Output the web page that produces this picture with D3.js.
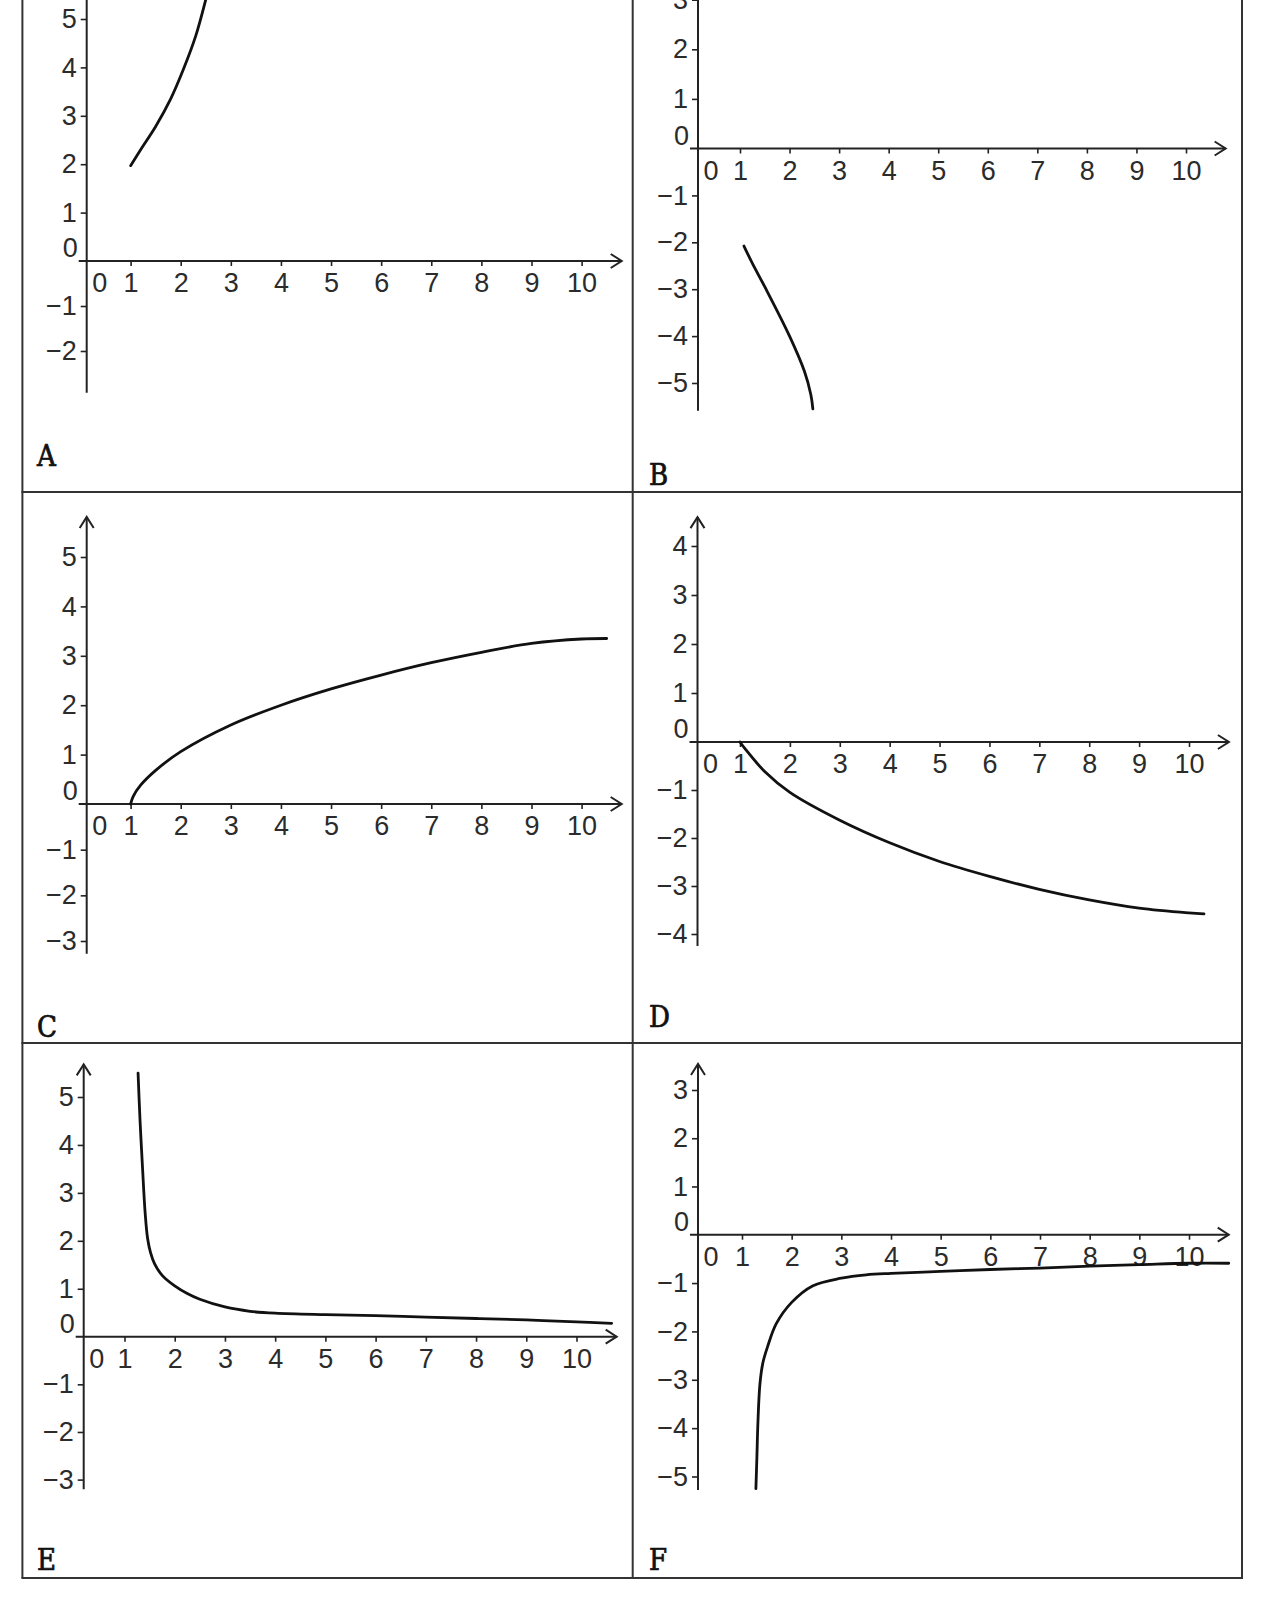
<!DOCTYPE html>
<html>
<head>
<meta charset="utf-8">
<script src="https://cdn.jsdelivr.net/npm/d3@7"></script>
<style>
body { margin: 0; background: #fff; }
svg { display: block; }
.tick text { font-family: "Liberation Sans", Arial, sans-serif; font-size: 27px; fill: #2b2b2b; }
.tick line { stroke: #222; stroke-width: 1.6; }
.zero { font-family: "Liberation Sans", Arial, sans-serif; font-size: 27px; fill: #2b2b2b; }
.plabel { font-family: "DejaVu Serif Condensed", "DejaVu Serif", serif; font-stretch: condensed; font-size: 29px; fill: #111; stroke: #111; stroke-width: 0.7; }
</style>
</head>
<body>
<svg id="chart"></svg>
<script>
// data
const panelNames = ["A", "B", "C", "D", "E", "F"];
const xTickValues = [1, 2, 3, 4, 5, 6, 7, 8, 9, 10];
const yTicksA = [-2, -1, 1, 2, 3, 4, 5];
const yTicksB = [-5, -4, -3, -2, -1, 1, 2, 3];
const yTicksC = [-3, -2, -1, 1, 2, 3, 4, 5];
const yTicksD = [-4, -3, -2, -1, 1, 2, 3, 4];
const yTicksE = [-3, -2, -1, 1, 2, 3, 4, 5];
const yTicksF = [-5, -4, -3, -2, -1, 1, 2, 3];

const curveA = [[1, 1.97], [1.2, 2.3], [1.5, 2.78], [1.8, 3.35], [2.05, 3.95], [2.3, 4.65], [2.5, 5.4], [2.56, 5.65]];
const curveB = [[1.08, -2.08], [1.25, -2.45], [1.55, -3.05], [2.0, -4], [2.3, -4.75], [2.43, -5.25], [2.47, -5.55]];
const curveC = [[1, 0], [1.05, 0.15], [1.2, 0.38], [1.5, 0.68], [2, 1.06], [3, 1.6], [4, 2.0], [5, 2.33],
  [6, 2.61], [7, 2.86], [8, 3.07], [9, 3.25], [10, 3.34], [10.5, 3.35]];
const curveD = [[1, 0], [1.1, -0.14], [1.5, -0.62], [2, -1.05], [3, -1.63], [4, -2.1], [5, -2.49],
  [6, -2.8], [7, -3.07], [8, -3.29], [9, -3.46], [10, -3.56], [10.3, -3.58]];
const curveE = [[1.27, 5.5], [1.31, 4.5], [1.36, 3.5], [1.41, 2.6], [1.46, 2.05], [1.52, 1.75], [1.6, 1.52],
  [1.75, 1.28], [2, 1.06], [2.25, 0.9], [2.5, 0.78], [3, 0.62], [3.5, 0.53], [4, 0.49], [5, 0.46],
  [6, 0.44], [7, 0.41], [8, 0.38], [9, 0.35], [10, 0.31], [10.7, 0.28]];
const curveF = [[1.28, -5.25], [1.3, -4.6], [1.32, -3.9], [1.36, -3.1], [1.42, -2.65], [1.52, -2.3],
  [1.69, -1.84], [2, -1.4], [2.42, -1.06], [3, -0.9], [3.5, -0.83], [4, -0.8], [5, -0.76], [6, -0.72],
  [7, -0.69], [8, -0.65], [9, -0.62], [10, -0.59], [10.8, -0.59]];

const W = 1263, H = 1600;
const svg = d3.select('#chart').attr('width', W).attr('height', H);

// layout of each panel (pixel positions only)
const panels = [
  { ticks: yTicksA, curve: curveA, xr: [86.7, 130.6, 581.6], yd: [-2, 0, 5], yr: [351, 261, 19], top: 6.5, bottom: -2.93, arrowTop: false, lab: [37, 466] },
  { ticks: yTicksB, curve: curveB, xr: [698, 740, 1186], yd: [-5, 0, 2], yr: [383, 148.5, 49.3], top: 3.8, bottom: -5.59, arrowTop: false, lab: [649, 485] },
  { ticks: yTicksC, curve: curveC, xr: [86.7, 130.6, 581.6], yd: [-3, 0, 5], yr: [941, 804, 557], top: 5.81, bottom: -3.28, arrowTop: true, lab: [37, 1037] },
  { ticks: yTicksD, curve: curveD, xr: [697.5, 740, 1189], yd: [-4, 0, 4], yr: [934, 742, 546], top: 4.59, bottom: -4.25, arrowTop: true, lab: [649, 1027] },
  { ticks: yTicksE, curve: curveE, xr: [83.7, 124.5, 576.5], yd: [-3, 0, 5], yr: [1479.6, 1336.7, 1097], top: 5.68, bottom: -3.2, arrowTop: true, lab: [37, 1570] },
  { ticks: yTicksF, curve: curveF, xr: [698, 742, 1189], yd: [-5, 0, 3], yr: [1476.5, 1234.7, 1090], top: 3.54, bottom: -5.28, arrowTop: true, lab: [649, 1570] }
];

// frame of the 2x3 table
const colX = [22.4, 632.7, 1242];
const rowY = [-5, 492, 1043, 1578];
const frame = svg.append('g').attr('stroke', '#333').attr('stroke-width', 2);
colX.forEach(cx => frame.append('line').attr('x1', cx).attr('x2', cx).attr('y1', rowY[0]).attr('y2', rowY[3]));
rowY.forEach(ry => frame.append('line').attr('x1', colX[0] - 1).attr('x2', colX[2] + 1).attr('y1', ry).attr('y2', ry));

const xEnd = 10.8;
const fmt = d3.format('d');

panels.forEach((p, i) => {
  var x = d3.scaleLinear().domain([0, 1, 10]).range(p.xr);
  var y = d3.scaleLinear().domain(p.yd).range(p.yr);
  var g = svg.append('g');
  var ox = x(0), oy = y(0);

  // y ticks
  var ya = g.append('g')
    .attr('transform', `translate(${ox},0)`)
    .call(d3.axisLeft(y).tickValues(p.ticks).tickFormat(fmt).tickSize(6).tickPadding(4));
  ya.select('.domain').remove();

  // x ticks
  var xa = g.append('g')
    .attr('transform', `translate(0,${oy})`)
    .call(d3.axisBottom(x).tickValues(xTickValues).tickFormat(fmt).tickSize(5).tickPadding(7));
  xa.select('.domain').remove();

  // the two zero labels
  g.append('text').attr('class', 'zero').attr('x', ox - 9).attr('y', oy - 4)
    .attr('text-anchor', 'end').text('0');
  g.append('text').attr('class', 'zero').attr('x', ox + 13).attr('y', oy + 31)
    .attr('text-anchor', 'middle').text('0');

  // axis lines with open arrow heads
  var ax = g.append('g').attr('stroke', '#222').attr('stroke-width', 2).attr('fill', 'none');
  ax.append('line').attr('x1', ox - 8).attr('x2', x(xEnd)).attr('y1', oy).attr('y2', oy);
  ax.append('path').attr('d', `M${x(xEnd) - 11},${oy - 7}L${x(xEnd)},${oy}L${x(xEnd) - 11},${oy + 7}`);
  ax.append('line').attr('x1', ox).attr('x2', ox).attr('y1', y(p.top)).attr('y2', y(p.bottom));
  if (p.arrowTop) {
    var ty = y(p.top);
    ax.append('path').attr('d', `M${ox - 7},${ty + 11}L${ox},${ty}L${ox + 7},${ty + 11}`);
  }

  // the graph
  var line = d3.line().x(d => x(d[0])).y(d => y(d[1])).curve(d3.curveCatmullRom.alpha(0.5));
  g.append('path').datum(p.curve)
    .attr('d', line)
    .attr('fill', 'none')
    .attr('stroke', '#111')
    .attr('stroke-width', 2.8)
    .attr('stroke-linecap', 'round');

  g.append('text').attr('class', 'plabel').attr('x', p.lab[0]).attr('y', p.lab[1]).text(panelNames[i]);
});
</script>
</body>
</html>
